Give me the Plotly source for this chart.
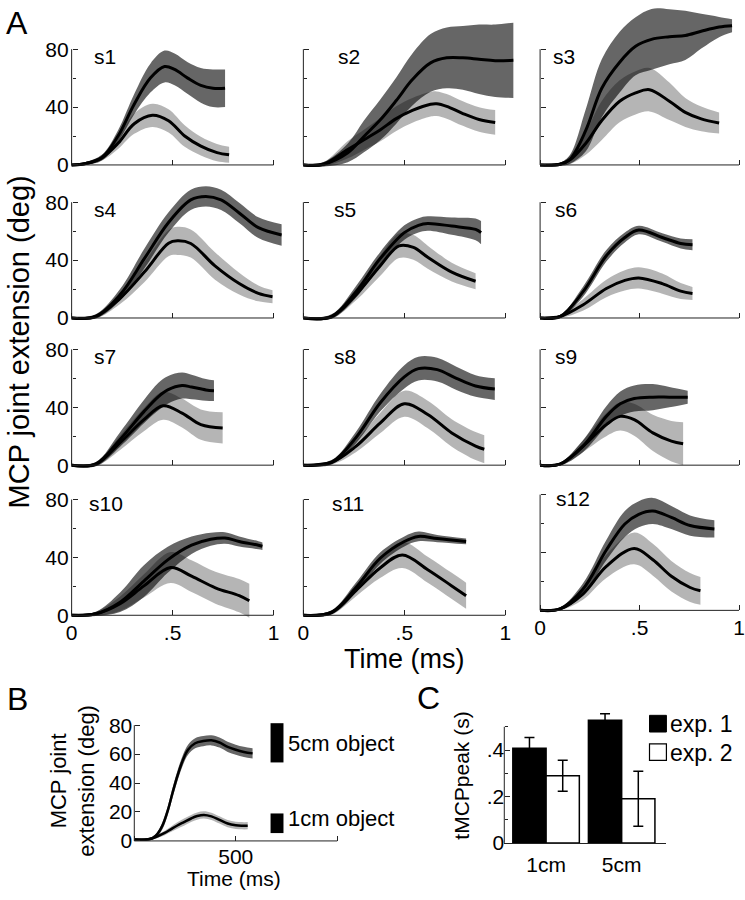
import plotly.graph_objects as go

W, H = 745, 900
FONT = "Liberation Sans, Arial, Helvetica, sans-serif"

# ---------------- Panel A data ----------------
# normalised time, mean and SD of MCP extension (deg)
# suffix 5 = 5cm object (dark band), suffix 1 = 1cm object (light band)
s1_t5 = [0, 0.07, 0.15, 0.23, 0.31, 0.39, 0.46, 0.51, 0.575, 0.64, 0.70, 0.76]
s1_m5 = [0, 1, 5, 20, 42, 60, 68, 66, 60, 55, 53, 53]
s1_sd5 = [0.5, 1, 2, 4, 7, 10, 11, 11, 11, 12, 13, 13]
s1_t1 = [0, 0.07, 0.15, 0.23, 0.31, 0.40, 0.48, 0.56, 0.64, 0.72, 0.78]
s1_m1 = [0, 1, 5, 15, 28.5, 34.3, 30.5, 20, 13, 8.5, 7]
s1_sd1 = [0.5, 1, 2, 4, 7, 8, 8, 7.5, 6.5, 6, 5.5]

s2_t5 = [0, 0.1, 0.22, 0.30, 0.38, 0.46, 0.54, 0.63, 0.71, 0.79, 0.87, 0.95, 1.04]
s2_m5 = [0, 0.5, 8.4, 19.7, 31, 44.5, 59, 70.5, 74, 74, 73, 72, 72.3]
s2_sd5 = [0.5, 1.5, 6.5, 11, 14, 16, 18, 20, 21, 22, 24, 25, 26]
s2_t1 = [0, 0.1, 0.22, 0.30, 0.38, 0.46, 0.54, 0.63, 0.66, 0.71, 0.79, 0.87, 0.95]
s2_m1 = [0, 0.5, 10.6, 17.4, 24.2, 32, 37.7, 42, 42.3, 40.5, 35.5, 31.4, 29.4]
s2_sd1 = [0.5, 1.5, 6, 7, 8, 8.5, 8.5, 8.5, 8.5, 8.5, 8.5, 8.5, 8.5]

s3_t5 = [0, 0.1, 0.15, 0.23, 0.31, 0.40, 0.48, 0.56, 0.65, 0.73, 0.81, 0.90, 0.965]
s3_m5 = [0, 0.5, 3.8, 24, 53, 71, 82, 86.8, 88.6, 89.5, 92.4, 95.3, 96.2]
s3_sd5 = [0.5, 1, 3, 14.6, 20, 21, 20, 21, 19, 17, 12, 7, 4.5]
s3_t1 = [0, 0.1, 0.15, 0.23, 0.31, 0.40, 0.48, 0.55, 0.65, 0.73, 0.81, 0.90]
s3_m1 = [0, 0.5, 3.5, 15, 30.7, 44, 49.8, 52, 44, 36.3, 31.8, 29]
s3_sd1 = [0.5, 1, 3, 8, 13.5, 14.5, 15, 15, 13, 10, 8.5, 7.3]

s4_t5 = [0, 0.12, 0.24, 0.36, 0.48, 0.59, 0.665, 0.74, 0.83, 0.925, 1.04]
s4_m5 = [0, 1.1, 16, 41, 66, 81.6, 84, 81.6, 72.6, 62.4, 57.4]
s4_sd5 = [0.5, 1.5, 4, 6.8, 7, 7, 7, 7, 7, 7.2, 7.4]
s4_t1 = [0, 0.12, 0.24, 0.36, 0.48, 0.524, 0.59, 0.71, 0.83, 0.925, 0.995]
s4_m1 = [0, 1.1, 13.6, 31.7, 51.7, 53.3, 51.5, 36, 23.8, 17, 14.7]
s4_sd1 = [0.5, 1.5, 4, 7, 9, 9.7, 9.7, 9.5, 7.5, 5.5, 4.5]

s5_t5 = [0, 0.14, 0.26, 0.38, 0.5, 0.57, 0.616, 0.735, 0.853, 0.88]
s5_m5 = [0, 1, 18, 41, 59, 64, 65.3, 63.5, 61.2, 59]
s5_sd5 = [0.5, 1.5, 4, 4.5, 5, 5, 5, 6, 7.5, 8]
s5_t1 = [0, 0.14, 0.26, 0.38, 0.474, 0.545, 0.616, 0.735, 0.853]
s5_m1 = [0, 1, 16, 36, 49.9, 48.8, 42, 31.7, 25.4]
s5_sd1 = [0.5, 1.5, 4, 7, 8.5, 8.5, 8, 6.5, 5.6]

s6_t5 = [0, 0.1, 0.215, 0.333, 0.426, 0.496, 0.614, 0.707, 0.766]
s6_m5 = [0, 1, 18, 43, 55.6, 60.8, 55.6, 51.5, 50.6]
s6_sd5 = [0.5, 1, 3.5, 4, 3.5, 3, 3, 3.5, 3.8]
s6_t1 = [0, 0.1, 0.215, 0.333, 0.426, 0.496, 0.614, 0.707, 0.766]
s6_m1 = [0, 1, 9, 20.4, 26, 27.7, 23.8, 18.6, 17]
s6_sd1 = [0.5, 1, 4, 6, 7, 7.4, 7, 5.5, 4.5]

s7_t5 = [0, 0.12, 0.24, 0.358, 0.43, 0.476, 0.547, 0.594, 0.665, 0.705]
s7_m5 = [0, 0.7, 17.8, 37, 47.4, 52, 55, 54, 52, 51.5]
s7_sd5 = [0.5, 1.5, 5, 8, 9.5, 9.5, 9, 8.5, 7.5, 7.2]
s7_t1 = [0, 0.12, 0.24, 0.358, 0.453, 0.547, 0.64, 0.748]
s7_m1 = [0, 0.7, 15.5, 31.4, 41, 36, 28, 25.7]
s7_sd1 = [0.5, 1.5, 5, 8, 9.7, 10, 10.5, 10.8]

s8_t5 = [0, 0.14, 0.26, 0.38, 0.5, 0.57, 0.663, 0.758, 0.853, 0.948]
s8_m5 = [0, 2, 19, 43, 61, 66.7, 66, 60, 54.7, 52.6]
s8_sd5 = [0.5, 1.5, 4, 6, 8, 8.2, 8.2, 8, 7.5, 7.5]
s8_t1 = [0, 0.14, 0.26, 0.38, 0.5, 0.616, 0.735, 0.853, 0.896]
s8_m1 = [0, 2, 13, 29, 42.4, 35, 22.3, 13.2, 11]
s8_sd1 = [0.5, 1.5, 4, 7, 9, 9.5, 9.5, 9.7, 9.7]

s9_t5 = [0, 0.1, 0.215, 0.333, 0.403, 0.473, 0.567, 0.65, 0.742]
s9_m5 = [0, 0.7, 13, 33.7, 42.4, 46, 47, 47, 47]
s9_sd5 = [0.5, 1, 4, 7, 8.5, 9, 9, 7, 4.5]
s9_t1 = [0, 0.1, 0.215, 0.333, 0.403, 0.473, 0.567, 0.66, 0.719]
s9_m1 = [0, 0.7, 13, 28, 33.7, 31.4, 22.3, 16.6, 14.8]
s9_sd1 = [0.5, 1, 4, 8, 9.8, 11, 12.5, 14, 14.8]

s10_t5 = [0, 0.12, 0.24, 0.358, 0.476, 0.594, 0.689, 0.759, 0.83, 0.925, 0.945]
s10_m5 = [0, 1, 9, 23.6, 38.3, 48.4, 52.5, 53.4, 51, 48.4, 47.7]
s10_sd5 = [0.5, 1.5, 6.8, 11, 9, 6, 4.5, 4, 3.5, 2.8, 2.6]
s10_t1 = [0, 0.12, 0.24, 0.358, 0.49, 0.594, 0.712, 0.83, 0.88]
s10_m1 = [0, 1, 8, 20.3, 33, 27, 19, 13.5, 10]
s10_sd1 = [0.5, 1.5, 5, 8, 10.7, 11, 11, 11.5, 11.8]

s11_t5 = [0, 0.14, 0.26, 0.38, 0.5, 0.57, 0.663, 0.806]
s11_m5 = [0, 2, 19, 39.4, 51, 54.5, 53, 51]
s11_sd5 = [0.5, 1.5, 3.5, 4, 3.5, 3.4, 2.5, 2]
s11_t1 = [0, 0.14, 0.26, 0.38, 0.49, 0.616, 0.735, 0.806]
s11_m1 = [0, 2, 17, 32.7, 41.7, 31.5, 20.3, 13.5]
s11_sd1 = [0.5, 1.5, 4, 7, 9, 9, 9, 9]

s12_t5 = [0, 0.1, 0.215, 0.333, 0.426, 0.496, 0.567, 0.66, 0.754, 0.876]
s12_m5 = [0, 1, 14.6, 41.7, 59.7, 66.4, 68.7, 64.2, 58.6, 56.3]
s12_sd5 = [0.5, 1, 4, 7, 9, 9, 9, 8, 7, 6]
s12_t1 = [0, 0.1, 0.215, 0.333, 0.473, 0.567, 0.66, 0.754, 0.806]
s12_m1 = [0, 1, 11.3, 30.4, 42.8, 35, 23.6, 15.8, 13.5]
s12_sd1 = [0.5, 1, 4, 8, 11, 11, 10.5, 10, 9.6]

subject_names = ["s1", "s2", "s3", "s4", "s5", "s6", "s7", "s8", "s9", "s10", "s11", "s12"]
a_xticks = [0, 0.5, 1]
a_xticklabels = ["0", ".5", "1"]
a_yticks = [0, 40, 80]
a_yminor = [20, 60]

# ---------------- Panel B data (ms, deg) ----------------
b_t5 = [0, 60, 90, 115, 140, 165, 190, 215, 240, 265, 300, 340, 380, 420, 460, 500, 540, 583]
b_m5 = [1, 1, 2, 5, 11, 21, 34, 46, 56, 63, 67.5, 69, 69.5, 68, 65, 63, 61.5, 60.5]
b_sd5 = [0.8, 0.8, 1, 1.5, 2.5, 3, 3.5, 3.5, 3.5, 3.5, 3.5, 3.5, 3.5, 3.5, 3.5, 3.5, 3.5, 3.5]
b_t1 = [0, 60, 90, 120, 150, 180, 210, 245, 280, 310, 343, 380, 420, 460, 500, 530, 559]
b_m1 = [1, 1, 1.8, 3.5, 5.5, 8, 10.5, 13, 15.5, 17.2, 18, 17, 14.5, 12, 10.8, 10.5, 10.5]
b_sd1 = [0.8, 0.8, 1, 1.2, 1.5, 1.8, 2.2, 2.5, 2.5, 2.5, 2.5, 2.5, 2.5, 2.5, 2.5, 2.5, 2.5]
b_xticks = [0, 500, 1000]
b_xticklabels = ["", "500", ""]
b_yticks = [0, 20, 40, 60, 80]

# ---------------- Panel C data (s) ----------------
c_cats = ["1cm", "5cm"]
c_exp1 = [0.408, 0.528]
c_exp1_err = [0.046, 0.028]
c_exp2 = [0.289, 0.190]
c_exp2_err = [0.067, 0.118]
c_yticks = [0, 0.2, 0.4]
c_yticklabels = ["0", ".2", ".4"]
c_yminor = [0.1, 0.3, 0.5]

DARK = "rgba(0,0,0,0.60)"
LIGHT = "rgba(0,0,0,0.29)"
AXC = "#222222"


def px(x):
    return x / W


def py(y):
    return 1 - y / H


def names(k):
    return ("x" if k == 1 else f"x{k}", "y" if k == 1 else f"y{k}",
            "xaxis" if k == 1 else f"xaxis{k}", "yaxis" if k == 1 else f"yaxis{k}")


fig = go.Figure()
layout_axes = {}
shapes = []
annotations = []


def add_band(t, m, sd, color, xa, ya):
    lo = [a - b for a, b in zip(m, sd)]
    hi = [a + b for a, b in zip(m, sd)]
    fig.add_trace(go.Scatter(x=t, y=lo, mode="lines", line=dict(width=0, shape="spline", smoothing=1),
                             hoverinfo="skip", showlegend=False, xaxis=xa, yaxis=ya))
    fig.add_trace(go.Scatter(x=t, y=hi, mode="lines", line=dict(width=0, shape="spline", smoothing=1),
                             fill="tonexty", fillcolor=color, hoverinfo="skip", showlegend=False,
                             xaxis=xa, yaxis=ya))


def add_mean(t, m, xa, ya, width=3):
    fig.add_trace(go.Scatter(x=t, y=m, mode="lines",
                             line=dict(color="black", width=width, shape="spline", smoothing=1),
                             hoverinfo="skip", showlegend=False, xaxis=xa, yaxis=ya))


A_DATA = [
    (s1_t5, s1_m5, s1_sd5, s1_t1, s1_m1, s1_sd1),
    (s2_t5, s2_m5, s2_sd5, s2_t1, s2_m1, s2_sd1),
    (s3_t5, s3_m5, s3_sd5, s3_t1, s3_m1, s3_sd1),
    (s4_t5, s4_m5, s4_sd5, s4_t1, s4_m1, s4_sd1),
    (s5_t5, s5_m5, s5_sd5, s5_t1, s5_m1, s5_sd1),
    (s6_t5, s6_m5, s6_sd5, s6_t1, s6_m1, s6_sd1),
    (s7_t5, s7_m5, s7_sd5, s7_t1, s7_m1, s7_sd1),
    (s8_t5, s8_m5, s8_sd5, s8_t1, s8_m1, s8_sd1),
    (s9_t5, s9_m5, s9_sd5, s9_t1, s9_m1, s9_sd1),
    (s10_t5, s10_m5, s10_sd5, s10_t1, s10_m1, s10_sd1),
    (s11_t5, s11_m5, s11_sd5, s11_t1, s11_m1, s11_sd1),
    (s12_t5, s12_m5, s12_sd5, s12_t1, s12_m1, s12_sd1),
]

# geometry of panel A (pixels)
col_x0 = [70, 303, 541]
col_ppu = [203, 203, 200]
col_xmax = [1.08, 1.08, 1.02]
row_y0 = [162, 318, 468, 621]
PPD = 118 / 80.0
XMIN = -0.02
YMIN = -4
lab_t = [0.10, 0.16, 0.056, 0.10, 0.14, 0.065, 0.10, 0.14, 0.065, 0.075, 0.13, 0.07]
TICKFONT = dict(family=FONT, size=21, color="black")

for i, d in enumerate(A_DATA):
    k = i + 1
    r, c = divmod(i, 3)
    xa, ya, xn, yn = names(k)
    t5, m5, sd5, t1, m1, sd1 = d
    add_band(t1, m1, sd1, LIGHT, xa, ya)
    add_band(t5, m5, sd5, DARK, xa, ya)
    add_mean(t1, m1, xa, ya)
    add_mean(t5, m5, xa, ya)

    x0 = col_x0[c]
    ppu = col_ppu[c]
    y0 = row_y0[r] - (5 if k == 12 else 0)
    top_px = (row_y0[r - 1] + 4) if r > 0 else 1
    ymax = (y0 - top_px) / PPD
    layout_axes[xn] = dict(
        domain=[max(0, px(x0 + XMIN * ppu)), min(1, px(x0 + col_xmax[c] * ppu))],
        range=[XMIN, col_xmax[c]], anchor="free", position=py(y0),
        showline=False, showgrid=False, zeroline=False,
        ticks="inside", ticklen=5, tickwidth=1, tickcolor=AXC,
        tickvals=a_xticks, ticktext=a_xticklabels, ticklabeloverflow="allow",
        ticklabelstandoff=3,
        showticklabels=(r == 3), tickfont=TICKFONT,
    )
    layout_axes[yn] = dict(
        domain=[py(y0 - YMIN * PPD), min(1, py(top_px))],
        range=[YMIN, ymax], anchor="free", position=px(x0),
        showline=False, showgrid=False, zeroline=False,
        ticks="inside", ticklen=5, tickwidth=1, tickcolor=AXC,
        tickvals=a_yticks, ticktext=[str(v) for v in a_yticks], ticklabelstandoff=3,
        showticklabels=(c == 0), tickfont=TICKFONT,
        minor=dict(tickvals=a_yminor, ticks="inside", ticklen=3, tickcolor=AXC, tickwidth=1),
    )
    shapes.append(dict(type="line", xref=xa, yref=ya, x0=0, x1=1, y0=0, y1=0,
                       line=dict(color=AXC, width=1)))
    shapes.append(dict(type="line", xref=xa, yref=ya, x0=0, x1=0, y0=0, y1=80,
                       line=dict(color=AXC, width=1)))
    annotations.append(dict(xref=xa, yref=ya, x=lab_t[i], y=(77 if r == 3 else 75),
                            text=subject_names[i], showarrow=False, xanchor="left", yanchor="middle",
                            font=dict(family=FONT, size=21, color="black")))

# ---------------- Panel B ----------------
k = 13
xa, ya, xn, yn = names(k)
add_band(b_t1, b_m1, b_sd1, LIGHT, xa, ya)
add_band(b_t5, b_m5, b_sd5, DARK, xa, ya)
add_mean(b_t1, b_m1, xa, ya, width=2.5)
add_mean(b_t5, b_m5, xa, ya, width=2.5)
bx0, bppu, by0 = 133, 0.204, 851
layout_axes[xn] = dict(
    domain=[px(bx0 - 10 * bppu), px(bx0 + 1015 * bppu)], range=[-10, 1015],
    anchor="free", position=py(by0), showline=False, showgrid=False, zeroline=False,
    ticks="inside", ticklen=5, tickcolor=AXC, tickvals=b_xticks, ticktext=b_xticklabels,
    ticklabelstandoff=1,
    tickfont=dict(family=FONT, size=21, color="black"),
)
layout_axes[yn] = dict(
    domain=[py(by0 + 2 * PPD), py(by0 - 84 * PPD)], range=[-2, 84],
    anchor="free", position=px(bx0), showline=False, showgrid=False, zeroline=False,
    ticks="inside", ticklen=5, tickcolor=AXC, tickvals=b_yticks, ticklabelstandoff=2,
    tickfont=dict(family=FONT, size=21, color="black"),
)
shapes.append(dict(type="line", xref=xa, yref=ya, x0=0, x1=1000, y0=0, y1=0, line=dict(color=AXC, width=1)))
shapes.append(dict(type="line", xref=xa, yref=ya, x0=0, x1=0, y0=0, y1=80, line=dict(color=AXC, width=1)))
# legend blocks for B
shapes.append(dict(type="rect", xref="paper", yref="paper", x0=px(270), x1=px(283), y0=py(771), y1=py(731),
                   fillcolor="black", line=dict(width=0)))
shapes.append(dict(type="rect", xref="paper", yref="paper", x0=px(270), x1=px(283), y0=py(843), y1=py(823),
                   fillcolor="black", line=dict(width=0)))
annotations.append(dict(xref="paper", yref="paper", x=px(286), y=py(752), text="5cm object", showarrow=False,
                        xanchor="left", yanchor="middle", font=dict(family=FONT, size=22, color="black")))
annotations.append(dict(xref="paper", yref="paper", x=px(286), y=py(828), text="1cm object", showarrow=False,
                        xanchor="left", yanchor="middle", font=dict(family=FONT, size=22, color="black")))
annotations.append(dict(xref="paper", yref="paper", x=px(233), y=py(889), text="Time (ms)", showarrow=False,
                        xanchor="center", yanchor="middle", font=dict(family=FONT, size=21, color="black")))
annotations.append(dict(xref="paper", yref="paper", x=px(71), y=py(790), text="MCP joint<br>extension (deg)",
                        showarrow=False, textangle=-90, xanchor="center", yanchor="middle",
                        font=dict(family=FONT, size=22, color="black")))

# ---------------- Panel C ----------------
k = 14
xa, ya, xn, yn = names(k)
fig.add_trace(go.Bar(x=c_cats, y=c_exp1, marker=dict(color="black", line=dict(color="black", width=1.5)),
                     error_y=dict(type="data", array=c_exp1_err, color="black", thickness=1.5, width=5),
                     showlegend=False, hoverinfo="skip", xaxis=xa, yaxis=ya))
fig.add_trace(go.Bar(x=c_cats, y=c_exp2, marker=dict(color="white", line=dict(color="black", width=1.5)),
                     error_y=dict(type="data", array=c_exp2_err, color="black", thickness=1.5, width=5),
                     showlegend=False, hoverinfo="skip", xaxis=xa, yaxis=ya))
cx0, cx1, cy0, cppu = 505, 668, 853, 236.7
layout_axes[xn] = dict(
    domain=[px(cx0), px(cx1)], range=[-0.553, 1.592], anchor=ya, type="category",
    showline=True, linecolor=AXC, linewidth=1, showgrid=False, zeroline=False, ticks="",
    ticklabelstandoff=3,
    tickfont=dict(family=FONT, size=21, color="black"),
)
layout_axes[yn] = dict(
    domain=[py(cy0), py(cy0 - 0.6 * cppu)], range=[0, 0.6], anchor="free", position=px(cx0),
    showline=False, showgrid=False, zeroline=False,
    ticks="inside", ticklen=5, tickcolor=AXC, tickvals=c_yticks, ticktext=c_yticklabels,
    tickfont=dict(family=FONT, size=21, color="black"),
    minor=dict(tickvals=c_yminor, ticks="inside", ticklen=3, tickcolor=AXC),
)
shapes.append(dict(type="line", xref=f"{xa} domain", yref=ya, x0=0, x1=0, y0=0, y1=0.5,
                   line=dict(color=AXC, width=1)))
shapes.append(dict(type="rect", xref="paper", yref="paper", x0=px(651), x1=px(668), y0=py(740), y1=py(723),
                   fillcolor="black", line=dict(color="black", width=1)))
shapes.append(dict(type="rect", xref="paper", yref="paper", x0=px(651), x1=px(668), y0=py(769), y1=py(752),
                   fillcolor="white", line=dict(color="black", width=1.2)))
annotations.append(dict(xref="paper", yref="paper", x=px(670), y=py(732), text="exp. 1", showarrow=False,
                        xanchor="left", yanchor="middle", font=dict(family=FONT, size=23, color="black")))
annotations.append(dict(xref="paper", yref="paper", x=px(670), y=py(761), text="exp. 2", showarrow=False,
                        xanchor="left", yanchor="middle", font=dict(family=FONT, size=23, color="black")))
annotations.append(dict(xref="paper", yref="paper", x=px(462), y=py(785), text="tMCPpeak (s)", showarrow=False,
                        textangle=-90, xanchor="center", yanchor="middle",
                        font=dict(family=FONT, size=21, color="black")))

# ---------------- global labels ----------------
annotations.append(dict(xref="paper", yref="paper", x=px(17), y=py(342), text="MCP joint extension (deg)",
                        showarrow=False, textangle=-90, xanchor="center", yanchor="middle",
                        font=dict(family=FONT, size=29, color="black")))
annotations.append(dict(xref="paper", yref="paper", x=px(404), y=py(666), text="Time (ms)", showarrow=False,
                        xanchor="center", yanchor="middle", font=dict(family=FONT, size=27, color="black")))
for letter, lx, ly in [("A", 2, 17), ("B", 3, 706), ("C", 415, 705)]:
    annotations.append(dict(xref="paper", yref="paper", x=px(lx), y=py(ly), text=letter, showarrow=False,
                            xanchor="left", yanchor="middle", font=dict(family=FONT, size=32, color="black")))

fig.update_layout(
    width=W, height=H, margin=dict(l=0, r=0, t=0, b=0),
    paper_bgcolor="white", plot_bgcolor="rgba(0,0,0,0)",
    showlegend=False, barmode="group", bargap=0.12, bargroupgap=0,
    font=dict(family=FONT, color="black"),
    shapes=shapes, annotations=annotations, **layout_axes,
)

fig.write_html("out.html", config={"displayModeBar": False},
               post_script="document.body.style.margin='0';document.body.style.padding='0';")
